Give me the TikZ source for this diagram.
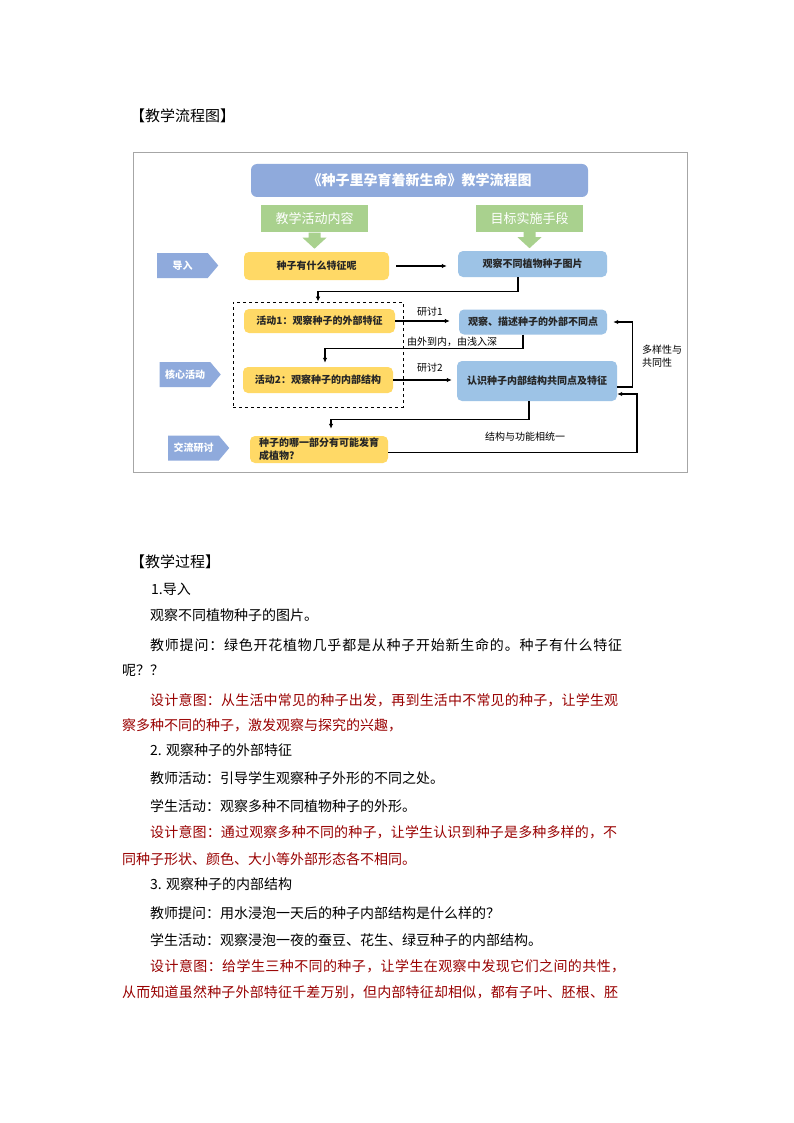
\documentclass[tikz,border=0pt]{standalone}
\usepackage{fontspec}
\setmainfont{Noto Sans CJK SC}
\usetikzlibrary{arrows.meta,shapes.symbols}

\definecolor{headblue}{HTML}{8FAADC}
\definecolor{stepgreen}{HTML}{A9D18E}
\definecolor{askyellow}{HTML}{FFD966}
\definecolor{aimblue}{HTML}{9DC3E6}
\definecolor{noteRed}{HTML}{990000}
\definecolor{frameGray}{HTML}{A6A6A6}

% a justified line: every character spread over the given width
\ExplSyntaxOn
\NewDocumentCommand\fullline{mm}{\makebox[#1][s]{\tl_map_inline:nn{#2}{##1\hfil}\unskip}}
\ExplSyntaxOff

\tikzset{
  titlebox/.style={fill=headblue, rounded corners=6pt, inner sep=0pt, minimum width=337pt, minimum height=33pt,
    text=white, font=\bfseries\fontsize{14}{16}\selectfont},
  stepbox/.style={fill=stepgreen, inner sep=0pt, minimum width=107pt, minimum height=27pt,
    text=white, font=\fontsize{13}{15}\selectfont},
  pent/.style={signal, signal to=east, signal pointer angle=100, fill=headblue, inner sep=0pt,
    minimum width=61pt, minimum height=25pt, text=white, font=\bfseries\fontsize{10}{12}\selectfont},
  askbox/.style={fill=askyellow, rounded corners=5pt, inner sep=0pt, text=black!85,
    font=\bfseries\fontsize{10}{13}\selectfont},
  aimbox/.style={fill=aimblue, rounded corners=5pt, inner sep=0pt, text=black!85,
    font=\bfseries\fontsize{10}{13}\selectfont},
  dashbox/.style={draw, dashed, line width=0.8pt, inner sep=0pt, minimum width=170pt, minimum height=105pt},
  arr/.style={line width=1.3pt, -{Latex[length=5pt,width=4.5pt]}},
  lbl/.style={inner sep=0pt, font=\fontsize{10}{13}\selectfont},
  head/.style={anchor=west, inner sep=0pt, font=\fontsize{15}{18}\selectfont},
  bodytext/.style={anchor=west, inner sep=0pt, font=\fontsize{14}{16}\selectfont},
  note/.style={bodytext, text=noteRed}
}

\begin{document}
\begin{tikzpicture}[x=1pt,y=-1pt]
\useasboundingbox (0,0) rectangle (794,1123);
\fill[white] (0,0) rectangle (794,1123);

\node[head] (flowhead) at (130,116) {【教学流程图】};

% flow chart
\draw[frameGray, line width=1pt] (133,153) rectangle (687,472);
\node[titlebox] (title) at (419.5,180.5) {《种子里孕育着新生命》教学流程图};
\node[stepbox] (doing) at (314.5,219) {教学活动内容};
\node[stepbox] (means) at (529.5,218.5) {目标实施手段};
\foreach \n in {doing,means}
  \fill[stepgreen] (\n.south) ++(-6,0) -- ++(12,0) -- ++(0,5) -- ++(6,0) -- ++(-12,11)
    -- ++(-12,-11) -- ++(6,0) -- cycle;

\node[pent] (lead) at (182.5,265.5) {导入};
\node[pent] (corelbl) at (185,374.5) {核心活动};
\node[pent] (talk) at (193.5,448) {交流研讨};

\node[askbox, minimum width=145pt, minimum height=28pt] (ask) at (316.5,266) {种子有什么特征呢};
\node[aimbox, minimum width=149pt, minimum height=26pt] (pics) at (532.5,264) {观察不同植物种子图片};
\node[dashbox] (core) at (318,354.5) {};
\node[askbox, minimum width=151pt, minimum height=24pt] (act1) at (319.5,321) {活动1：观察种子的外部特征};
\node[askbox, minimum width=150pt, minimum height=26pt] (act2) at (318,380) {活动2：观察种子的内部结构};
\node[askbox, minimum width=138pt, minimum height=27pt, align=left] (ques) at (319,449.5) {种子的哪一部分有可能发育\\成植物?};
\node[aimbox, minimum width=148pt, minimum height=25pt] (outer) at (533,322) {观察、描述种子的外部不同点};
\node[aimbox, minimum width=160pt, minimum height=40pt] (inner) at (537,381) {认识种子内部结构共同点及特征};

\draw[arr, shorten <=7pt, shorten >=11pt] (ask.east) -- (ask.east -| pics.west);
\draw[arr] ([xshift=-14.5pt]pics.south) -- ++(0,14) -| (core.north);
\draw[arr, shorten >=9pt] (act1.east) -- (act1.east -| outer.west);
\node[lbl] (talk1) at (430,312) {研讨1};
\draw[arr, shorten >=4pt] ([xshift=-10pt]outer.south) -- ++(0,14) -| ([xshift=7pt]act2.north);
\node[lbl, anchor=west] (deeper) at (407,342) {由外到内，由浅入深};
\draw[arr, shorten >=5pt] (act2.east) -- (act2.east -| inner.west);
\node[lbl] (talk2) at (430,368) {研讨2};
\draw[arr, shorten >=7pt] ([xshift=-8pt]inner.south) -- ++(0,18) -| ([xshift=12pt]ques.north);
\coordinate (back) at (637,394);
\draw[arr] ([yshift=-3pt]ques.east) -| (back) -- (back -| inner.east);
\node[lbl] (unity) at (525,437) {结构与功能相统一};
\draw[arr, shorten >=6pt] ([yshift=-6pt]inner.east) -- ++(15,0) |- (outer.east);
\node[lbl, align=left, anchor=north west] (variety) at (642,345) {多样性与\\共同性};

% teaching process
\node[head] (prochead) at (130,562) {【教学过程】};
\node[bodytext] (l1) at (151,589) {1.导入};
\node[bodytext] (l2) at (150,615) {观察不同植物种子的图片。};
\node[bodytext] (l3) at (150,645) {\fullline{472pt}{教师提问：绿色开花植物几乎都是从种子开始新生命的。种子有什么特征}};
\node[bodytext] (l4) at (122,670) {呢？？};
\node[note] (l5) at (150,700) {\fullline{468pt}{设计意图：从生活中常见的种子出发，再到生活中不常见的种子，让学生观}};
\node[note] (l6) at (122,725) {察多种不同的种子，激发观察与探究的兴趣，};
\node[bodytext] (l7) at (150,750) {2. 观察种子的外部特征};
\node[bodytext] (l8) at (150,778) {教师活动：引导学生观察种子外形的不同之处。};
\node[bodytext] (l9) at (150,806) {学生活动：观察多种不同植物种子的外形。};
\node[note] (l10) at (150,832) {\fullline{467pt}{设计意图：通过观察多种不同的种子，让学生认识到种子是多种多样的，不}};
\node[note] (l11) at (122,859) {同种子形状、颜色、大小等外部形态各不相同。};
\node[bodytext] (l12) at (150,884) {3. 观察种子的内部结构};
\node[bodytext] (l13) at (150,913) {教师提问：用水浸泡一天后的种子内部结构是什么样的？};
\node[bodytext] (l14) at (150,940) {学生活动：观察浸泡一夜的蚕豆、花生、绿豆种子的内部结构。};
\node[note] (l15) at (150,966) {\fullline{475pt}{设计意图：给学生三种不同的种子，让学生在观察中发现它们之间的共性，}};
\node[note] (l16) at (122,992) {\fullline{496pt}{从而知道虽然种子外部特征千差万别，但内部特征却相似，都有子叶、胚根、胚}};
\end{tikzpicture}
\end{document}
